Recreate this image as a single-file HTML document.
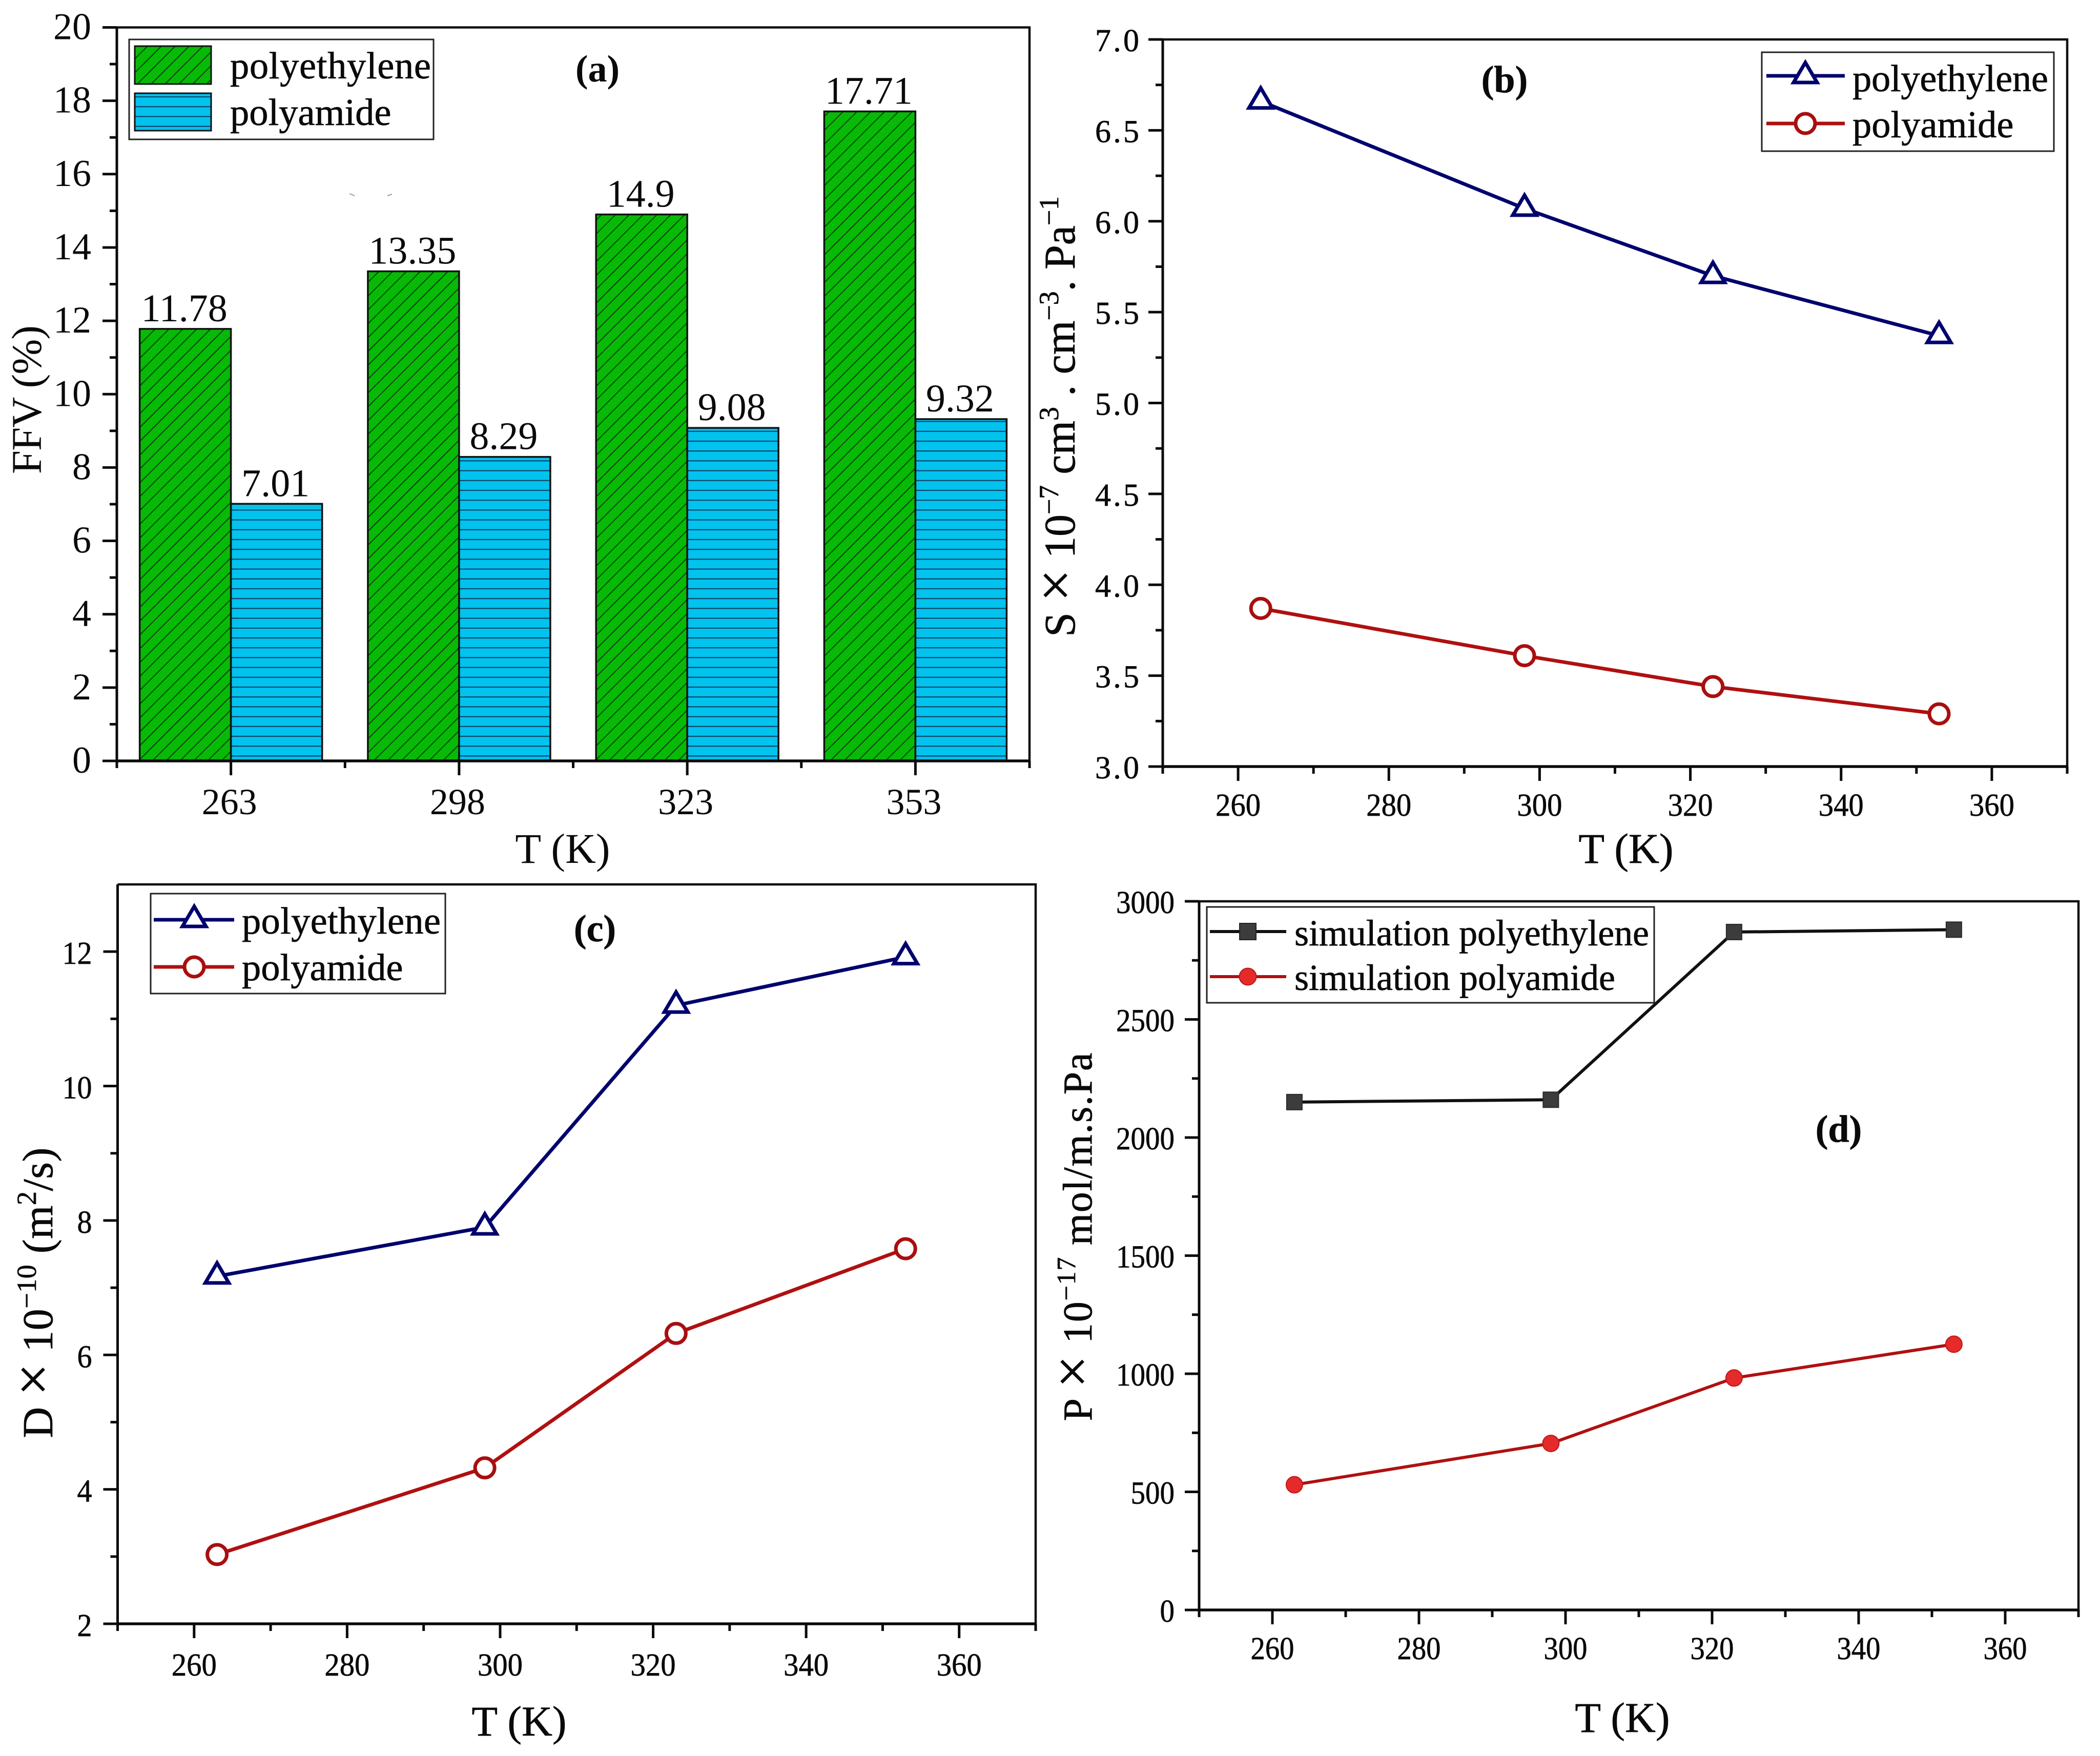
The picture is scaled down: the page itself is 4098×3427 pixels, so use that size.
<!DOCTYPE html>
<html lang="en">
<head>
<meta charset="utf-8">
<title>Polymer properties versus temperature</title>
<style>
html,body{margin:0;padding:0;background:#fff;}
svg{display:block;}
text{font-family:"Liberation Serif","DejaVu Serif",serif;fill:#0a0a0a;}
.axis-title{font-size:83px;}
.legend-text{font-size:74.5px;stroke:#0a0a0a;stroke-width:0.7;}
.panel-tag{font-size:74px;font-weight:bold;}
.legend-box{fill:#fff;stroke:#222;stroke-width:3;}
#panel-b text,#panel-c text,#panel-d text{stroke:#0a0a0a;stroke-width:0.7;}
.big-times{font-size:112px;}
</style>
</head>
<body>
<svg xmlns="http://www.w3.org/2000/svg" id="figure" width="4098" height="3427" viewBox="0 0 4098 3427">
  <defs>
    <pattern id="hatch-green" patternUnits="userSpaceOnUse" width="27" height="27">
      <rect width="27" height="27" fill="#06ba06"/>
      <path d="M-4 4L4 -4M0 27L27 0M23 31L31 23" stroke="#0b400b" stroke-width="1.9" fill="none"/>
    </pattern>
    <pattern id="hatch-blue" patternUnits="userSpaceOnUse" width="19.2" height="19.2" y="1485">
      <rect width="19.2" height="19.2" fill="#02c2ee"/>
      <path d="M0 9.6H19.2" stroke="#0a3a5c" stroke-width="2" fill="none"/>
    </pattern>
  </defs>
  <rect width="4098" height="3427" fill="#ffffff"/>

  <g id="panel-a">
    <path d="M682 378l10 4M756 382l9 -3" stroke="#999" stroke-width="2" fill="none"/>
    <text class="axis-title" x="1098" y="1684" text-anchor="middle">T (K)</text>
    <text class="axis-title" transform="translate(80,780) rotate(-90)" text-anchor="middle" textLength="290">FFV (%)</text>
    <text class="panel-tag" x="1166" y="159" text-anchor="middle">(a)</text>
  </g>
  <g id="legend-a">
    <rect class="legend-box" x="252" y="77" width="594" height="195"/>
    <rect x="263" y="90" width="149" height="74" fill="url(#hatch-green)" stroke="#111" stroke-width="3"/>
    <rect x="263" y="182" width="149" height="73" fill="url(#hatch-blue)" stroke="#111" stroke-width="3"/>
    <text class="legend-text" x="449" y="153" textLength="392">polyethylene</text>
    <text class="legend-text" x="449" y="244">polyamide</text>
  </g>

  <g id="panel-b">
    <text class="axis-title" x="3173" y="1684" text-anchor="middle">T (K)</text>
    <text class="axis-title" transform="translate(2097,813) rotate(-90)" text-anchor="middle" textLength="860" style="font-size:86px">S <tspan class="big-times">×</tspan> 10<tspan dy="-32" font-size="54">−7</tspan><tspan dy="32"> cm</tspan><tspan dy="-32" font-size="54">3</tspan><tspan dy="32"> . cm</tspan><tspan dy="-32" font-size="54">−3</tspan><tspan dy="32">. Pa</tspan><tspan dy="-32" font-size="54">−1</tspan></text>
    <text class="panel-tag" x="2936" y="180" text-anchor="middle">(b)</text>
  </g>
  <g id="panel-c">
    <text class="axis-title" x="1013" y="3387" text-anchor="middle">T (K)</text>
    <text class="axis-title" transform="translate(102,2523) rotate(-90)" text-anchor="middle" textLength="567" style="font-size:84px">D <tspan class="big-times">×</tspan> 10<tspan dy="-32" font-size="54">−10</tspan><tspan dy="32"> (m</tspan><tspan dy="-32" font-size="54">2</tspan><tspan dy="32">/s)</tspan></text>
    <text class="panel-tag" x="1161" y="1837" text-anchor="middle">(c)</text>
  </g>
  <g id="panel-d">
    <text class="axis-title" x="3166" y="3380" text-anchor="middle">T (K)</text>
    <text class="axis-title" transform="translate(2130,2414) rotate(-90)" text-anchor="middle" textLength="719" style="font-size:80px">P <tspan class="big-times">×</tspan> 10<tspan dy="-32" font-size="52">−17</tspan><tspan dy="32"> mol/m.s.Pa</tspan></text>
    <text class="panel-tag" x="3588" y="2228" text-anchor="middle">(d)</text>
  </g>

  <g id="legend-b">
    <rect class="legend-box" x="3438" y="102" width="570" height="193"/>
    <line x1="3447" x2="3600" y1="148" y2="148" stroke="#00006e" stroke-width="7"/>
    <path d="M3523 122L3546 161H3500Z" fill="#fff" stroke="#00006e" stroke-width="7"/>
    <line x1="3447" x2="3600" y1="241" y2="241" stroke="#b01010" stroke-width="7"/>
    <circle cx="3523" cy="241" r="19" fill="#fff" stroke="#a80f0f" stroke-width="7"/>
    <text class="legend-text" x="3615" y="178" textLength="382">polyethylene</text>
    <text class="legend-text" x="3615" y="268">polyamide</text>
  </g>
  <g id="legend-c">
    <rect class="legend-box" x="294" y="1744" width="575" height="195"/>
    <line x1="300" x2="457" y1="1795" y2="1795" stroke="#00006e" stroke-width="7"/>
    <path d="M379 1769L402 1808H356Z" fill="#fff" stroke="#00006e" stroke-width="7"/>
    <line x1="300" x2="457" y1="1887" y2="1887" stroke="#b01010" stroke-width="7"/>
    <circle cx="379" cy="1887" r="19" fill="#fff" stroke="#a80f0f" stroke-width="7"/>
    <text class="legend-text" x="472" y="1822" textLength="388">polyethylene</text>
    <text class="legend-text" x="472" y="1913">polyamide</text>
  </g>
  <g id="legend-d">
    <rect class="legend-box" x="2355" y="1770" width="873" height="187"/>
    <line x1="2361" x2="2510" y1="1818" y2="1818" stroke="#111" stroke-width="6"/>
    <rect x="2419" y="1802" width="32" height="32" fill="#3c3c3c" stroke="#222" stroke-width="2"/>
    <line x1="2361" x2="2510" y1="1906" y2="1906" stroke="#b01010" stroke-width="6"/>
    <circle cx="2435" cy="1906" r="16.5" fill="#e42a2a" stroke="#c01818" stroke-width="2"/>
    <text class="legend-text" x="2526" y="1845" style="font-size:72px" textLength="692">simulation polyethylene</text>
    <text class="legend-text" x="2526" y="1932" style="font-size:72px">simulation polyamide</text>
  </g>
</svg>

<script>
// ---- data ----
const categories = ['263', '298', '323', '353'];
const ffvPolyethylene = [11.78, 13.35, 14.9, 17.71];
const ffvPolyamide = [7.01, 8.29, 9.08, 9.32];
const ffvTicks = [0, 2, 4, 6, 8, 10, 12, 14, 16, 18, 20];

const temperatures = [263, 298, 323, 353];
const tempTicks = [260, 280, 300, 320, 340, 360];

const solubilityPolyethylene = [6.66, 6.07, 5.70, 5.37];
const solubilityPolyamide = [3.87, 3.61, 3.44, 3.29];
const solubilityTicks = ['3.0', '3.5', '4.0', '4.5', '5.0', '5.5', '6.0', '6.5', '7.0'];

const diffusionPolyethylene = [7.17, 7.9, 11.2, 11.92];
const diffusionPolyamide = [3.03, 4.32, 6.32, 7.58];
const diffusionTicks = [2, 4, 6, 8, 10, 12];

const permeabilityPolyethylene = [2150, 2160, 2870, 2880];
const permeabilityPolyamide = [530, 705, 982, 1125];
const permeabilityTicks = [0, 500, 1000, 1500, 2000, 2500, 3000];

// ---- helpers ----
const NS = 'http://www.w3.org/2000/svg';
const svg = document.getElementById('figure');
function make(parent, tag, attrs, txt) {
  const el = document.createElementNS(NS, tag);
  for (const k in attrs) el.setAttribute(k, attrs[k]);
  if (txt !== undefined) el.textContent = txt;
  
  parent.appendChild(el);
  return el;
}
function linear(d0, d1, r0, r1) {
  return function (v) { return r0 + (v - d0) * (r1 - r0) / (d1 - d0); };
}
function drawFrame(g, box, tag) {
  const t = make(g, 'path', {
    d: 'M' + box.left + ' ' + box.top + 'H' + box.right + 'V' + box.bottom,
    fill: 'none', stroke: '#111', 'stroke-width': 4.5
  });
  
  const l = make(g, 'line', { x1: box.left, x2: box.left, y1: box.top, y2: box.bottom + 14, stroke: '#0a0a0a', 'stroke-width': 5 });
  
  const b = make(g, 'line', { x1: box.left, x2: box.right, y1: box.bottom, y2: box.bottom, stroke: '#0a0a0a', 'stroke-width': 5.5 });
  
}
function xTick(g, x, box, major, tag) {
  const m = make(g, 'line', { x1: x, x2: x, y1: box.bottom, y2: box.bottom + (major ? 28 : 14), stroke: '#0a0a0a', 'stroke-width': 5 });
  
}
function yTick(g, y, box, major, tag) {
  const m = make(g, 'line', { x1: box.left, x2: box.left - (major ? 28 : 14), y1: y, y2: y, stroke: '#0a0a0a', 'stroke-width': 5 });
  
}
function yAxis(g, labels, yScale, box, tag, style) {
  labels.forEach(function (lab, i) {
    const v = parseFloat(lab);
    const y = yScale(v);
    yTick(g, y, box, true, tag);
    if (i < labels.length - 1) {
      yTick(g, yScale((v + parseFloat(labels[i + 1])) / 2), box, false, tag);
    }
    const a = { x: box.left - style.gap, y: y + style.dy, 'text-anchor': 'end', 'font-size': style.size };
    if (style.width) {
      a.textLength = style.width(String(lab));
      a.lengthAdjust = style.adjust || 'spacingAndGlyphs';
    }
    const t = make(g, 'text', a, String(lab));
    
  });
}
function xAxisLinear(g, labels, xScale, box, tag, style) {
  labels.forEach(function (v, i) {
    xTick(g, xScale(v), box, true, tag);
    const t = make(g, 'text', {
      x: xScale(v), y: box.bottom + style.below, 'text-anchor': 'middle',
      'font-size': style.size, textLength: style.labelWidth, lengthAdjust: 'spacingAndGlyphs'
    }, String(v));
    
    if (i < labels.length - 1) xTick(g, xScale(v + 10), box, false, tag);
  });
  xTick(g, xScale(labels[0] - 10), box, false, tag);
  xTick(g, xScale(labels[labels.length - 1] + 10), box, false, tag);
}
function drawSeries(g, xs, ys, xScale, yScale, opt, name) {
  const pts = xs.map(function (x, i) { return xScale(x) + ',' + yScale(ys[i]); }).join(' ');
  const line = make(g, 'polyline', { points: pts, fill: 'none', stroke: opt.color, 'stroke-width': opt.lineWidth, 'stroke-linejoin': 'round' });
  
  xs.forEach(function (x, i) {
    const cx = xScale(x), cy = yScale(ys[i]);
    let mk;
    if (opt.shape === 'triangle') {
      mk = make(g, 'path', {
        d: 'M' + cx + ' ' + (cy - 26) + 'L' + (cx + 23) + ' ' + (cy + 13) + 'H' + (cx - 23) + 'Z',
        fill: '#fff', stroke: opt.markerColor, 'stroke-width': 7
      });
    } else if (opt.shape === 'ring') {
      mk = make(g, 'circle', { cx: cx, cy: cy, r: 19, fill: '#fff', stroke: opt.markerColor, 'stroke-width': 7 });
    } else if (opt.shape === 'square') {
      mk = make(g, 'rect', { x: cx - 15, y: cy - 15, width: 30, height: 30, fill: '#3c3c3c', stroke: '#2a2a2a', 'stroke-width': 2 });
    } else {
      mk = make(g, 'circle', { cx: cx, cy: cy, r: 16, fill: '#e42a2a', stroke: '#c01818', 'stroke-width': 2 });
    }
    
  });
}

// ---- panel (a): grouped bars ----
(function () {
  const g = document.getElementById('panel-a');
  const box = { left: 228, right: 2009, top: 53.5, bottom: 1485 };
  const yScale = linear(0, 20, box.bottom, box.top);
  const band = (box.right - box.left) / categories.length;
  const barW = 178;
  categories.forEach(function (c, i) {
    const cx = box.left + band * (i + 0.5);
    const y1 = yScale(ffvPolyethylene[i]);
    const y2 = yScale(ffvPolyamide[i]);
    const r1 = make(g, 'rect', { x: cx - barW, y: y1, width: barW, height: box.bottom - y1, fill: 'url(#hatch-green)', stroke: '#111', 'stroke-width': 3.5 });
    
    const r2 = make(g, 'rect', { x: cx, y: y2, width: barW, height: box.bottom - y2, fill: 'url(#hatch-blue)', stroke: '#111', 'stroke-width': 3.5 });
    
    const t1 = make(g, 'text', { x: cx - barW / 2 - 2, y: y1 - 15, 'text-anchor': 'middle', 'font-size': 76 }, String(ffvPolyethylene[i]));
    
    const t2 = make(g, 'text', { x: cx + barW / 2 - 2, y: y2 - 15, 'text-anchor': 'middle', 'font-size': 76 }, String(ffvPolyamide[i]));
    
    xTick(g, cx, box, true, 'a');
    const t3 = make(g, 'text', { x: cx - 3, y: box.bottom + 104, 'text-anchor': 'middle', 'font-size': 72 }, c);
    
    xTick(g, cx - band / 2, box, false, 'a');
  });
  xTick(g, box.right, box, false, 'a');
  drawFrame(g, box, 'a');
  yAxis(g, ffvTicks, yScale, box, 'a', { gap: 50, dy: 23, size: 74 });
})();

// ---- panel (b) ----
(function () {
  const g = document.getElementById('panel-b');
  const box = { left: 2269, right: 4034, top: 77, bottom: 1496 };
  const xScale = linear(250, 370, box.left, box.right);
  const yScale = linear(3, 7, box.bottom, box.top);
  drawFrame(g, box, 'b');
  xAxisLinear(g, tempTicks, xScale, box, 'b', { below: 96, size: 62, labelWidth: 88 });
  yAxis(g, solubilityTicks, yScale, box, 'b', { gap: 46, dy: 23, size: 62, width: function () { return 86; }, adjust: 'spacing' });
  drawSeries(g, temperatures, solubilityPolyethylene, xScale, yScale, { color: '#00006e', markerColor: '#00006e', lineWidth: 7, shape: 'triangle' }, 'polyethylene-b');
  drawSeries(g, temperatures, solubilityPolyamide, xScale, yScale, { color: '#b01010', markerColor: '#a80f0f', lineWidth: 7, shape: 'ring' }, 'polyamide-b');
})();

// ---- panel (c) ----
(function () {
  const g = document.getElementById('panel-c');
  const box = { left: 229.5, right: 2021, top: 1726, bottom: 3169 };
  const xScale = linear(250, 370, box.left, box.right);
  const yScale = linear(2, 13, box.bottom, box.top);
  drawFrame(g, box, 'c');
  xAxisLinear(g, tempTicks, xScale, box, 'c', { below: 101, size: 62, labelWidth: 88 });
  yAxis(g, diffusionTicks, yScale, box, 'c', { gap: 50, dy: 24, size: 62, width: function (s) { return s.length * 29; } });
  drawSeries(g, temperatures, diffusionPolyethylene, xScale, yScale, { color: '#00006e', markerColor: '#00006e', lineWidth: 7, shape: 'triangle' }, 'polyethylene-c');
  drawSeries(g, temperatures, diffusionPolyamide, xScale, yScale, { color: '#b01010', markerColor: '#a80f0f', lineWidth: 7, shape: 'ring' }, 'polyamide-c');
})();

// ---- panel (d) ----
(function () {
  const g = document.getElementById('panel-d');
  const box = { left: 2340, right: 4056, top: 1759, bottom: 3142 };
  const xScale = linear(250, 370, box.left, box.right);
  const yScale = linear(0, 3000, box.bottom, box.top);
  drawFrame(g, box, 'd');
  xAxisLinear(g, tempTicks, xScale, box, 'd', { below: 96, size: 62, labelWidth: 85 });
  yAxis(g, permeabilityTicks, yScale, box, 'd', { gap: 48, dy: 23, size: 62, width: function (s) { return s.length * 28.5; } });
  drawSeries(g, temperatures, permeabilityPolyethylene, xScale, yScale, { color: '#111', lineWidth: 6, shape: 'square' }, 'simulation-polyethylene');
  drawSeries(g, temperatures, permeabilityPolyamide, xScale, yScale, { color: '#b01010', lineWidth: 6, shape: 'dot' }, 'simulation-polyamide');
})();

// keep legends above drawn frames
svg.appendChild(document.getElementById('legend-a'));
svg.appendChild(document.getElementById('legend-b'));
svg.appendChild(document.getElementById('legend-c'));
svg.appendChild(document.getElementById('legend-d'));
</script>
</body>
</html>
